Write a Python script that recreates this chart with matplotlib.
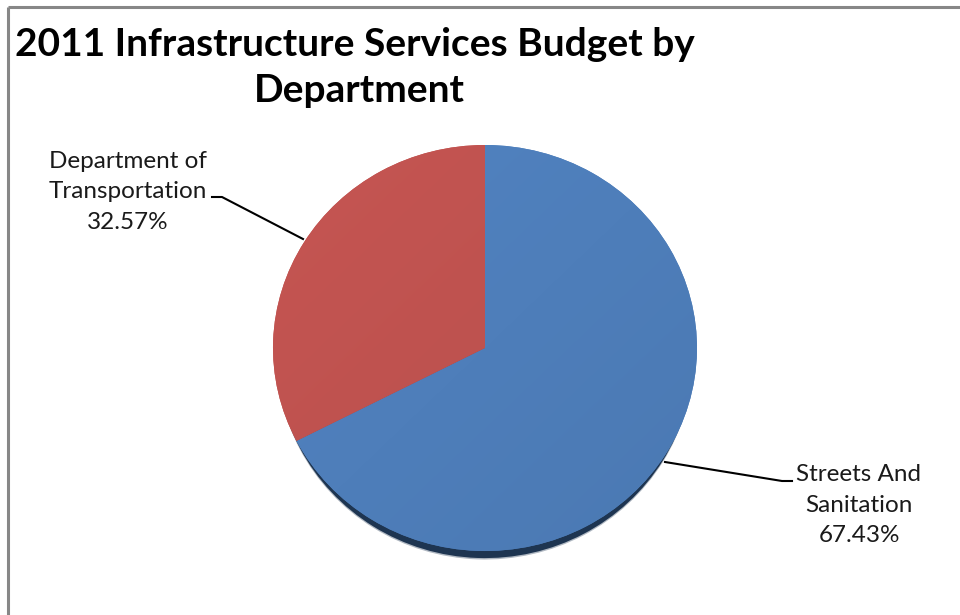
import matplotlib
matplotlib.use("Agg")
import matplotlib.pyplot as plt
import numpy as np
from matplotlib.colors import to_rgb
from matplotlib.transforms import Affine2D

# Budget share by department (percent)
departments = ["Streets And\nSanitation", "Department of\nTransportation"]
shares = [67.43, 32.57]
colors = ["#4E7EBA", "#BE524F"]
title_lines = ["2011 Infrastructure Services Budget by", "Department"]

W, H = 960, 615
fig = plt.figure(figsize=(W / 100, H / 100), dpi=100)
fig.patch.set_facecolor("white")

# Overlay axes in pixel coordinates for frame, title, labels and leaders
ov = fig.add_axes([0, 0, 1, 1])
ov.set_xlim(0, W)
ov.set_ylim(H, 0)
ov.axis("off")
ov.set_zorder(2)
ov.patch.set_alpha(0)

# Pie axes: ellipse centred at (485, 348) px, radii 212 x 203 px
cx, cy, rx, ry = 485, 348, 212, 203
pie_ax = fig.add_axes([(cx - rx) / W, 1 - (cy + ry) / H, 2 * rx / W, 2 * ry / H])
pie_ax.axis("off")
pie_ax.set_aspect("auto")
pie_ax.set_xlim(-1, 1)
pie_ax.set_ylim(-1, 1)

# drop shadow below the pie (slightly narrower, shifted down)
for dy, a in [(-0.042, 0.35), (-0.035, 1.0)]:
    sh, _ = pie_ax.pie(shares, startangle=90, counterclock=False,
                       colors=["#1E3551", "#1E3551"], radius=1,
                       wedgeprops=dict(linewidth=0, alpha=a))
    for w in sh:
        w.set_transform(Affine2D().scale(0.982, 1.0).translate(0, dy) + pie_ax.transData)
        w.set_clip_on(False)
        w.set_zorder(1)

wedges, _ = pie_ax.pie(shares, startangle=90, counterclock=False,
                       colors=colors, radius=1,
                       wedgeprops=dict(linewidth=0))
pie_ax.set_aspect("auto")
pie_ax.set_xlim(-1, 1)
pie_ax.set_ylim(-1, 1)

# subtle diagonal shading over each slice
gx, gy = np.meshgrid(np.linspace(-1, 1, 200), np.linspace(1, -1, 200))
ramp = (gx - gy) / 4.0  # -0.5 .. 0.5, lighter toward upper left
for w, c in zip(wedges, colors):
    w.set_clip_on(False)
    w.set_zorder(3)
    base = np.array(to_rgb(c))
    img = np.clip(base[None, None, :] * (1 - 0.08 * ramp[..., None]), 0, 1)
    im = pie_ax.imshow(img, extent=(-1, 1, -1, 1), zorder=4, aspect="auto",
                       interpolation="bilinear")
    im.set_clip_path(w)
pie_ax.set_xlim(-1, 1)
pie_ax.set_ylim(-1, 1)

# chart frame (top and left edges)
ov.plot([8, W], [7, 7], color="#878787", lw=2.2, solid_capstyle="butt")
ov.plot([8, 8], [7, H], color="#878787", lw=2.2, solid_capstyle="butt")

# title
ov.text(355, 44, title_lines[0], ha="center", va="center",
        fontsize=28, fontweight="bold", family="Lato", color="black")
ov.text(359, 91, title_lines[1], ha="center", va="center",
        fontsize=28, fontweight="bold", family="Lato", color="black")

# data labels
lab_kw = dict(ha="center", va="center", fontsize=17.5, family="Lato",
              color="#1a1a1a", linespacing=1.55)
ov.text(128, 192, f"{departments[1]}\n{shares[1]:.2f}%", **lab_kw)
ov.text(859, 505, f"{departments[0]}\n{shares[0]:.2f}%", **lab_kw)

# leader lines
ov.plot([212, 222, 303], [197, 197, 239], color="black", lw=1.5)
ov.plot([665, 782, 792], [462, 481, 481], color="black", lw=1.5)

fig.savefig("out.png", dpi=100, facecolor="white")
